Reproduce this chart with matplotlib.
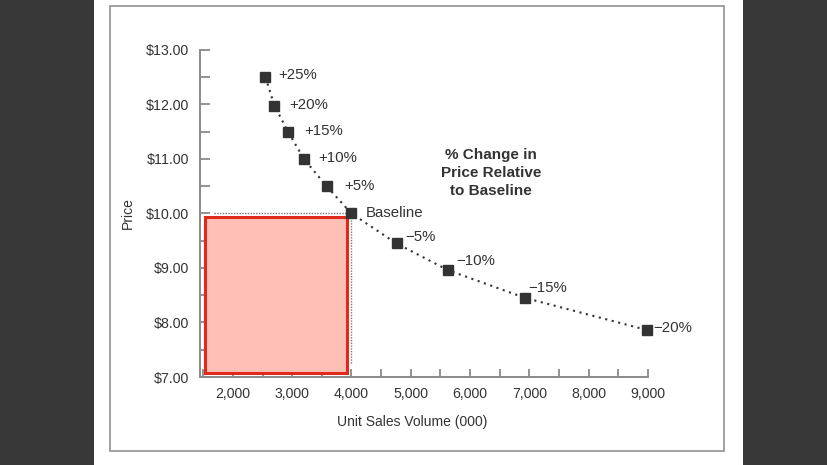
import matplotlib
matplotlib.use("Agg")
import matplotlib.pyplot as plt
from matplotlib.patches import Rectangle
from matplotlib.ticker import MultipleLocator, FuncFormatter

plt.rcParams['font.family'] = ['Liberation Sans', 'DejaVu Sans']

# ---- data ----
labels = ["+25%", "+20%", "+15%", "+10%", "+5%", "Baseline", "\u22125%", "\u221210%", "\u221215%", "\u221220%"]
volume = [2550, 2700, 2930, 3200, 3580, 4000, 4760, 5630, 6930, 8990]
price = [12.50, 11.98, 11.50, 11.00, 10.50, 10.00, 9.45, 8.96, 8.45, 7.86]
x_ticks = [2000, 3000, 4000, 5000, 6000, 7000, 8000, 9000]
y_ticks = [7, 8, 9, 10, 11, 12, 13]
revenue_box = (1530, 3920, 7.08, 9.94)  # x0, x1, y0, y1
baseline_vol = 4000
baseline_price = 10.00

# label offsets in points (dx, dy)
offsets = [(9.5, 1.5), (10.5, 0.5), (11.5, 0.5), (10, 0.5), (12.5, 0.5), (10.5, 0.5),
           (6, 4.5), (6, 6.5), (2.5, 7.5), (4.5, 1.5)]

W, H = 828, 465
fig = plt.figure(figsize=(W / 100, H / 100), dpi=100)
fig.patch.set_facecolor('white')

# dark side bars and frame
fig.patches.append(Rectangle((0, 0), 94 / W, 1, transform=fig.transFigure,
                             facecolor='#383838', edgecolor='none', zorder=0))
fig.patches.append(Rectangle((743 / W, 0), 1 - 743 / W, 1, transform=fig.transFigure,
                             facecolor='#383838', edgecolor='none', zorder=0))
fig.patches.append(Rectangle((110 / W, 1 - 451 / H), (724 - 110) / W, (451 - 6) / H,
                             transform=fig.transFigure, facecolor='none',
                             edgecolor='#9a9a9a', lw=1.3, zorder=1))

left, right = 200 / W, 648 / W
top, bottom = 1 - 50 / H, 1 - 377 / H
ax = fig.add_axes([left, bottom, right - left, top - bottom])
ax.set_facecolor('none')
ax.set_xlim(1446, 9000)
ax.set_ylim(7, 13)

for s in ['top', 'right']:
    ax.spines[s].set_visible(False)
for s in ['left', 'bottom']:
    ax.spines[s].set_color('#8a8a8a')
    ax.spines[s].set_linewidth(1.4)

ax.set_xticks(x_ticks)
ax.set_yticks(y_ticks)
ax.xaxis.set_minor_locator(MultipleLocator(500))
ax.yaxis.set_minor_locator(MultipleLocator(0.5))
ax.xaxis.set_major_formatter(FuncFormatter(lambda v, p: f"{int(v):,}"))
ax.yaxis.set_major_formatter(FuncFormatter(lambda v, p: f"${v:.2f}"))
ax.tick_params(axis='both', which='both', direction='in', color='#8a8a8a', width=1.3,
               labelsize=10.2, labelcolor='#333333')
ax.tick_params(axis='y', which='both', length=7, pad=8)
ax.tick_params(axis='x', which='both', length=6, pad=7)

# revenue box
x0, x1, y0, y1 = revenue_box
ax.add_patch(Rectangle((x0, y0), x1 - x0, y1 - y0, facecolor='#fdbfb6',
                       edgecolor='#e02a1c', lw=2.2, zorder=2))

# baseline reference lines
ax.plot([1680, baseline_vol], [baseline_price, baseline_price], color='#777777',
        lw=1.0, linestyle=(0, (1, 1)), zorder=3)
ax.plot([baseline_vol, baseline_vol], [7.25, baseline_price], color='#777777',
        lw=1.0, linestyle=(0, (1, 1)), zorder=3)

# demand curve
ax.plot(volume, price, color='#333333', lw=1.5, linestyle=(0, (1, 2.2)), zorder=4,
        clip_on=False)
ax.plot(volume, price, linestyle='none', marker='s', markersize=7.2,
        color='#333333', zorder=5, clip_on=False)

for lab, xv, yv, (dx, dy) in zip(labels, volume, price, offsets):
    ax.annotate(lab, (xv, yv), xytext=(dx, dy), textcoords='offset points',
                ha='left', va='center', fontsize=10.8, color='#333333',
                annotation_clip=False)

fig.text(491 / W, 1 - 173 / H, "% Change in\nPrice Relative\nto Baseline",
         ha='center', va='center', fontsize=11, fontweight='bold',
         color='#333333', linespacing=1.4)

fig.text(128 / W, 1 - 213 / H, "Price", rotation=90, ha='center', va='center',
         fontsize=10, color='#333333')
fig.text(412 / W, 1 - 422 / H, "Unit Sales Volume (000)", ha='center', va='center',
         fontsize=10, color='#333333')

fig.savefig("out.png", dpi=100)
